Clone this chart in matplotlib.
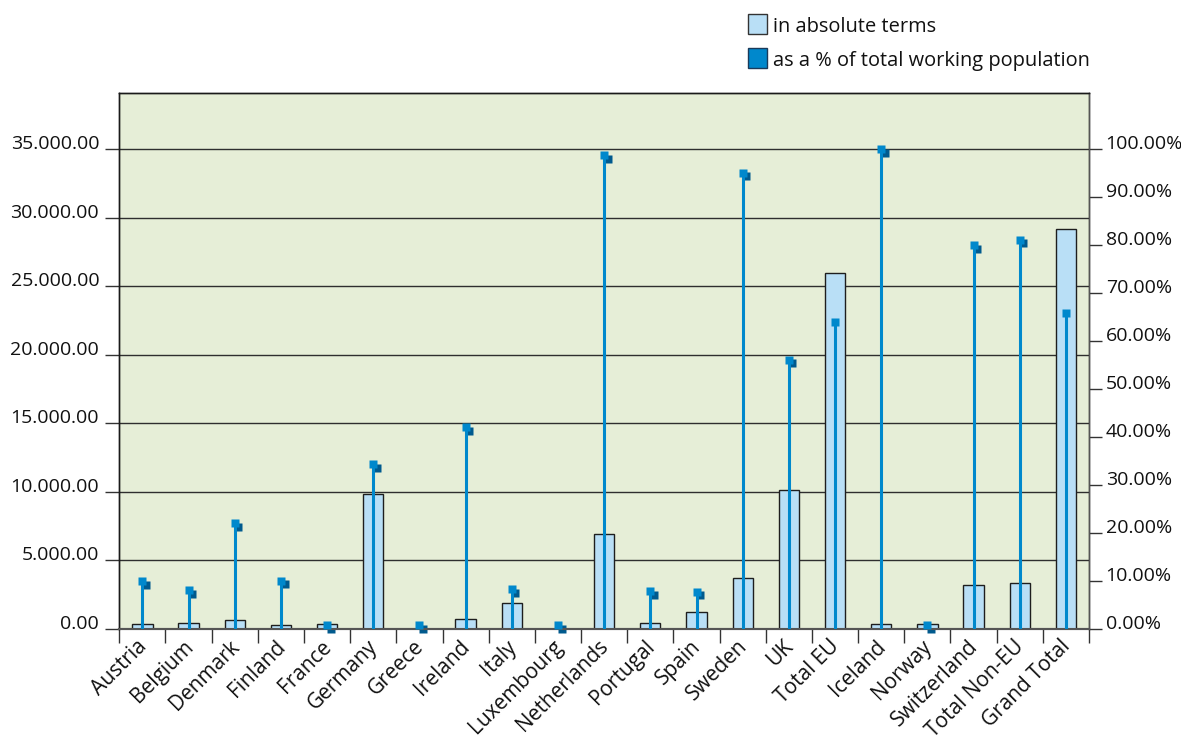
import matplotlib
matplotlib.use("Agg")
import matplotlib.pyplot as plt
import numpy as np
from matplotlib.ticker import FuncFormatter
from matplotlib.transforms import offset_copy, ScaledTranslation
from matplotlib.patches import Rectangle

plt.rcParams['font.family'] = ['Open Sans', 'DejaVu Sans']

countries = ["Austria", "Belgium", "Denmark", "Finland", "France", "Germany",
             "Greece", "Ireland", "Italy", "Luxembourg", "Netherlands",
             "Portugal", "Spain", "Sweden", "UK", "Total EU", "Iceland",
             "Norway", "Switzerland", "Total Non-EU", "Grand Total"]
absolute = [330, 440, 660, 270, 340, 9830, 20, 730, 1900, 30, 6910,
            415, 1220, 3750, 10120, 25950, 340, 340, 3210, 3330, 29200]
percent = [10.0, 8.1, 22.0, 10.1, 0.8, 34.4, 0.8, 42.1, 8.3, 0.8, 98.7,
           7.9, 7.8, 95.1, 56.1, 64.0, 100.0, 0.8, 80.0, 81.1, 65.9]
abs_ticks = list(range(0, 35001, 5000))
pct_ticks = list(range(0, 101, 10))

W, H = 1181, 736
FS = 14
BG = '#e6eed7'
BAR = '#b9dff6'
BLUE = '#0088cc'
SHADOW = '#005a8e'
TXT = '#111111'

fig = plt.figure(figsize=(W / 100, H / 100), dpi=100)
left, right, top, bottom = 119.3, 1089, 93, 629
ax = fig.add_axes([left / W, 1 - bottom / H, (right - left) / W, (bottom - top) / H])
ax.set_facecolor(BG)

n = len(countries)
x = np.arange(n)
ax.set_xlim(-0.5, n - 0.5)
ymax = 39100
ax.set_ylim(0, ymax)

ax2 = ax.twinx()
ax2.set_ylim(0, ymax / 350)  # 100 % sits level with 35.000

# horizontal grid behind the bars
ax.set_axisbelow(True)
ax.yaxis.grid(True, color='#2e2e2e', linewidth=1.0)
ax.xaxis.grid(False)

# bars: absolute values
ax.bar(x, absolute, width=0.44, color=BAR, edgecolor='#1e1e1e',
       linewidth=1.0, zorder=3)

# drop shadow of the percentage markers (sits behind the bars)
shadow_tr = offset_copy(ax2.transData, fig=fig, x=3.6, y=-3.6, units='dots')
ax.plot(x, percent, ls='none', marker='s', ms=5.6, mfc=SHADOW, mec='none',
        transform=shadow_tr, zorder=2, clip_on=False)

# stems and markers: share of total working population
ax2.vlines(x, 0, percent, color=BLUE, linewidth=2.2, zorder=3)
ax2.plot(x, percent, ls='none', marker='s', ms=5.6, mfc=BLUE, mec='none',
         zorder=4)

# x axis: ticks on category boundaries, labels at centres
ax.set_xticks(np.arange(-0.5, n, 1.0))
ax.set_xticklabels([])
ax.tick_params(axis='x', which='major', length=10, width=1.0, color='#333333')
label_shift = ScaledTranslation(-6 / 100, -7 / 100, fig.dpi_scale_trans)
for xi, name in zip(x, countries):
    ax.text(xi, 0, name, rotation=45, ha='right', va='top',
            rotation_mode='anchor', fontsize=15, color=TXT,
            transform=ax.get_xaxis_transform() + label_shift, clip_on=False)

# left axis
ax.set_yticks(abs_ticks)
ax.yaxis.set_major_formatter(FuncFormatter(
    lambda v, p: f"{v:,.2f}".replace(',', '.')))
ax.tick_params(axis='y', length=10, width=1.0, color='#333333', pad=4.5,
               labelsize=FS, labelcolor=TXT)
for lab in ax.get_yticklabels():
    lab.set_verticalalignment('baseline')

# right axis
ax2.set_yticks(pct_ticks)
ax2.yaxis.set_major_formatter(FuncFormatter(lambda v, p: f"{v:.2f}%"))
ax2.tick_params(axis='y', length=9, width=1.0, color='#333333', pad=3,
                labelsize=FS, labelcolor=TXT)
for lab in ax2.get_yticklabels():
    lab.set_verticalalignment('baseline')

for a in (ax, ax2):
    for side in ('left', 'top', 'right'):
        a.spines[side].set_color('#1a1a1a')
        a.spines[side].set_linewidth(1.0)
    a.spines['bottom'].set_color('#555555')
    a.spines['bottom'].set_linewidth(1.5)
ax2.spines['right'].set_color('#555555')

# legend
def px_rect(x0, y0, w, h, face, edge):
    fig.add_artist(Rectangle((x0 / W, 1 - (y0 + h) / H), w / W, h / H,
                             transform=fig.transFigure, facecolor=face,
                             edgecolor=edge, linewidth=1.0))

px_rect(748, 14, 19, 20, BAR, '#333333')
px_rect(748, 48, 19, 20, BLUE, '#1a3a5a')
fig.text(773 / W, 1 - 32 / H, "in absolute terms", fontsize=14.4,
         va='baseline', ha='left', color=TXT)
fig.text(773 / W, 1 - 66 / H, "as a % of total working population",
         fontsize=14.4, va='baseline', ha='left', color=TXT)

fig.savefig("out.png", dpi=100, facecolor='white')
